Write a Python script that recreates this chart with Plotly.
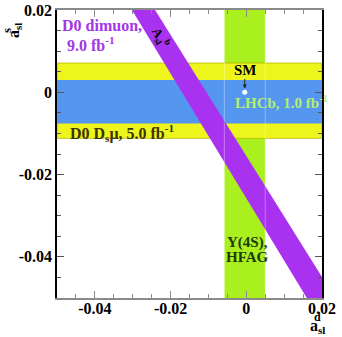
import plotly.graph_objects as go

# ---- data ----
x_range = [-0.05, 0.02]
y_range = [-0.05, 0.02]

hfag_d = [-0.0058, 0.0050]          # Y(4S), HFAG band in a_sl^d
d0_dsmu_s = [-0.0112, 0.0071]       # D0 Ds mu band in a_sl^s
lhcb_s = [-0.0076, 0.0030]          # LHCb band in a_sl^s
dimuon_x = [-0.0302, -0.0241, 0.02, 0.02, 0.0160]   # D0 dimuon band polygon
dimuon_y = [0.02, 0.02, -0.0449, -0.05, -0.05]
sm_point = [-0.0004, 0.0000]

tick_vals = [-0.04, -0.02, 0, 0.02]
tick_text = ["-0.04", "-0.02", "0", "0.02"]

# ---- colours ----
c_green = "#aaf01e"
c_yellow = "#eef51c"
c_blue = "#5596f0"
c_purple = "#a832f0"

FONT = "Liberation Serif"

fig = go.Figure()

# green vertical band
fig.add_trace(go.Scatter(
    x=[hfag_d[0], hfag_d[1], hfag_d[1], hfag_d[0], hfag_d[0]],
    y=[y_range[0], y_range[0], y_range[1], y_range[1], y_range[0]],
    fill="toself", fillcolor=c_green, mode="lines", line=dict(width=0),
    hoverinfo="skip", showlegend=False))
# yellow horizontal band
fig.add_trace(go.Scatter(
    x=[x_range[0], x_range[1], x_range[1], x_range[0], x_range[0]],
    y=[d0_dsmu_s[0], d0_dsmu_s[0], d0_dsmu_s[1], d0_dsmu_s[1], d0_dsmu_s[0]],
    fill="toself", fillcolor=c_yellow, mode="lines",
    line=dict(width=0.8, color="#b8b800"),
    hoverinfo="skip", showlegend=False))
# blue horizontal band
fig.add_trace(go.Scatter(
    x=[x_range[0], x_range[1], x_range[1], x_range[0], x_range[0]],
    y=[lhcb_s[0], lhcb_s[0], lhcb_s[1], lhcb_s[1], lhcb_s[0]],
    fill="toself", fillcolor=c_blue, mode="lines", line=dict(width=0),
    hoverinfo="skip", showlegend=False))
# purple diagonal band
fig.add_trace(go.Scatter(
    x=dimuon_x + [dimuon_x[0]], y=dimuon_y + [dimuon_y[0]],
    fill="toself", fillcolor=c_purple, mode="lines", line=dict(width=0),
    hoverinfo="skip", showlegend=False))
# faint edge lines of the green band on top
for xe in hfag_d:
    fig.add_trace(go.Scatter(
        x=[xe, xe], y=y_range, mode="lines",
        line=dict(width=1, color="rgba(255,255,255,0.35)"),
        hoverinfo="skip", showlegend=False))
# SM point
fig.add_trace(go.Scatter(
    x=[sm_point[0]], y=[sm_point[1]], mode="markers",
    marker=dict(size=5, color="white", line=dict(width=0)),
    hoverinfo="skip", showlegend=False))

def ann(text, x, y, color, size=16, xanchor="center", yanchor="middle", **kw):
    fig.add_annotation(text=text, x=x, y=y, xref="x", yref="y",
                       showarrow=False, xanchor=xanchor, yanchor=yanchor,
                       font=dict(family=FONT, size=size, color=color, weight="bold"),
                       **kw)

ann("D0 dimuon,", -0.0492, 0.0163, "#a535e6", xanchor="left")
ann("9.0 fb<sup>-1</sup>", -0.0480, 0.0118, "#a535e6", xanchor="left")
ann("D0 D<sub>s</sub>μ, 5.0 fb<sup>-1</sup>", -0.0472, -0.0099, "#3d3200", size=16, xanchor="left")
ann("LHCb, 1.0 fb<sup>-1</sup>", -0.0034, -0.0024, "#b4f06e", size=15, xanchor="left")
ann("SM", -0.0003, 0.0054, "black", size=15)
ann("Υ(4S),", 0.0002, -0.0364, "#1e3a0c", size=15)
ann("HFAG", 0.0002, -0.0400, "#1e3a0c", size=15)
ann("A<sub>sl</sub><sup>b</sup>", -0.0226, 0.0132, "black", size=13, textangle=60)

# SM arrow
fig.add_annotation(x=sm_point[0], y=0.0009, ax=sm_point[0], ay=0.0036,
                   xref="x", yref="y", axref="x", ayref="y", text="",
                   showarrow=True, arrowhead=2, arrowsize=0.8, arrowwidth=1,
                   arrowcolor="#222222")

# axis titles
def pann(text, px, py, size=16, angle=0):
    fig.add_annotation(text=text, x=(px - 57) / 265, y=(297.7 - py) / 287.7,
                       xref="paper", yref="paper", showarrow=False,
                       xanchor="center", yanchor="middle", textangle=angle,
                       font=dict(family=FONT, size=size, color="black", weight="bold"))

pann("a<sub>sl</sub>", 317, 326.5, 16)
pann("d", 317, 317, 12)
pann("a<sub>sl</sub>", 14, 31, 16, angle=-90)
pann("s", 6, 31, 13, angle=-90)

axis_common = dict(
    tickvals=tick_vals, ticktext=tick_text,
    ticks="inside", ticklen=7, tickwidth=1,
    showgrid=False, zeroline=False, mirror="ticks", showline=True,
    automargin=False,
    tickfont=dict(family=FONT, size=16, color="black", weight="bold"),
    minor=dict(dtick=0.005, tick0=0, ticks="inside", ticklen=4, tickwidth=1, showgrid=False),
)

fig.update_xaxes(range=x_range, linecolor="#8a8a8a", linewidth=1.5,
                 tickcolor="#8a8a8a", ticklabelstandoff=-5, **axis_common)
fig.update_yaxes(range=y_range, linecolor="black", linewidth=1.5,
                 tickcolor="#555555", **axis_common)
fig.update_xaxes(minor_tickcolor="#8a8a8a")
fig.update_yaxes(minor_tickcolor="#555555")

fig.update_layout(
    width=342, height=337, autosize=False,
    margin=dict(l=57, r=20, t=10, b=39, autoexpand=False),
    plot_bgcolor="white", paper_bgcolor="white",
    showlegend=False,
)

fig.write_html("out.html")
